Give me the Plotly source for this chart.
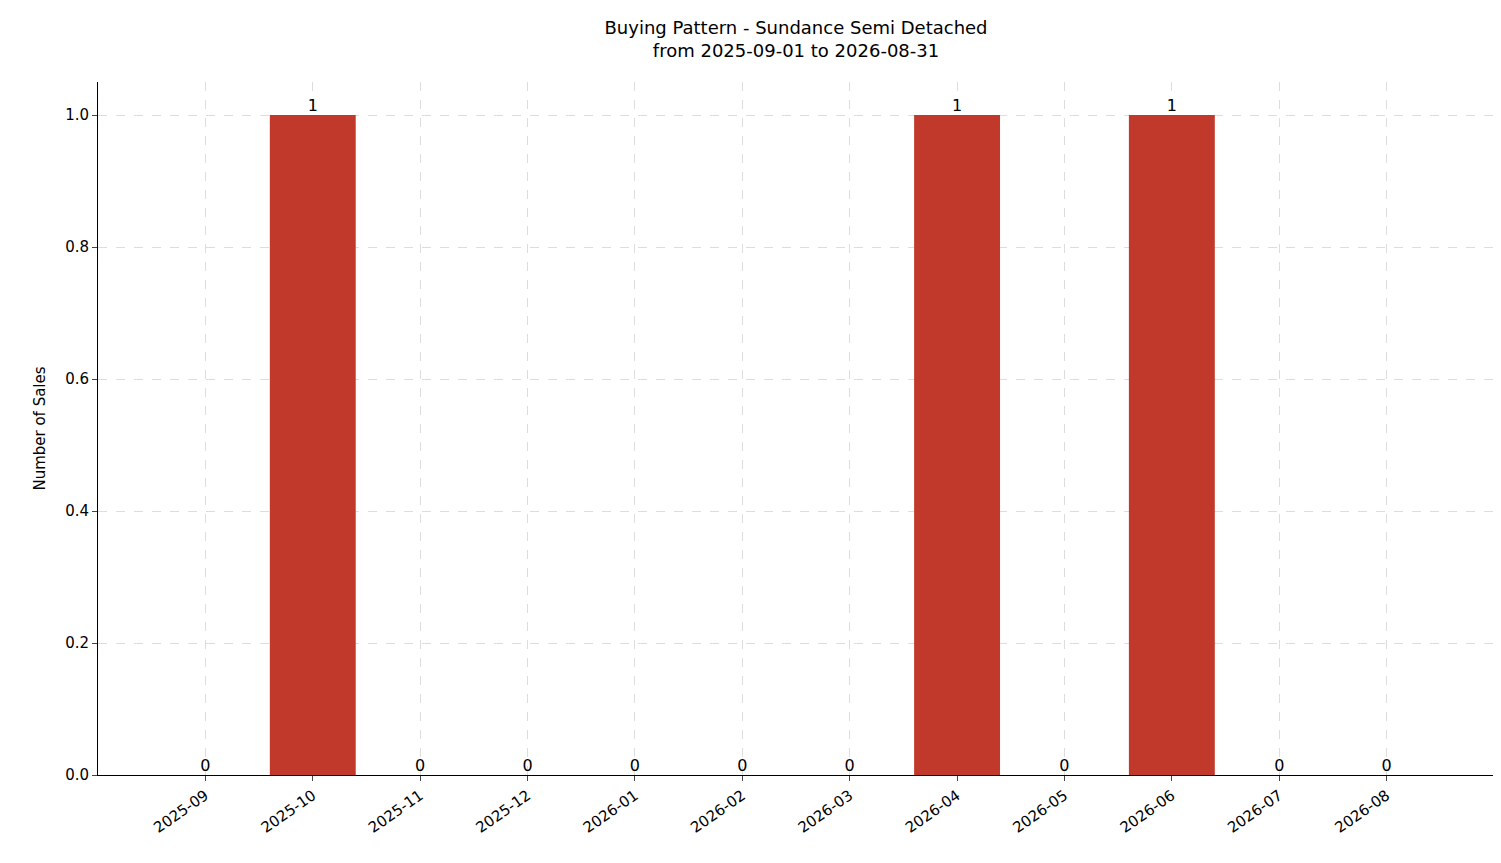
import plotly.graph_objects as go

months = ["2025-09", "2025-10", "2025-11", "2025-12", "2026-01", "2026-02",
          "2026-03", "2026-04", "2026-05", "2026-06", "2026-07", "2026-08"]
sales = [0, 1, 0, 0, 0, 0, 0, 1, 0, 1, 0, 0]

font = "DejaVu Sans"
fig = go.Figure()
fig.add_trace(go.Bar(x=months, y=sales, width=0.8, marker_color="#c0392b",
                     marker_line_width=0, showlegend=False))
fig.add_trace(go.Scatter(x=months, y=sales, mode="text", text=[str(v) for v in sales],
                         textposition="top center", textfont=dict(size=16, color="black"),
                         showlegend=False, cliponaxis=False))

fig.update_layout(
    width=1501, height=863,
    margin=dict(l=90, r=15, t=74, b=96),
    plot_bgcolor="white", paper_bgcolor="white",
    font=dict(family=font, size=14, color="black"),
    title=dict(text="Buying Pattern - Sundance Semi Detached<br>from 2025-09-01 to 2026-08-31",
               x=0.525, xanchor="center", y=0.97, yanchor="top", font=dict(size=18)),
)
fig.update_xaxes(type="category", range=[-1, 12], showline=True, linecolor="black",
                 ticks="outside", tickangle=-35, showgrid=True, gridcolor="#dddddd",
                 griddash="dash", gridwidth=0.8, tickfont=dict(size=15))
fig.update_yaxes(range=[0, 1.05], dtick=0.2, tickformat=".1f", showline=True,
                 linecolor="black", ticks="outside", showgrid=True, gridcolor="#dddddd",
                 griddash="dash", gridwidth=0.8, zeroline=False,
                 title=dict(text="Number of Sales", font=dict(size=15)),
                 tickfont=dict(size=15))

fig.write_html("out.html")
